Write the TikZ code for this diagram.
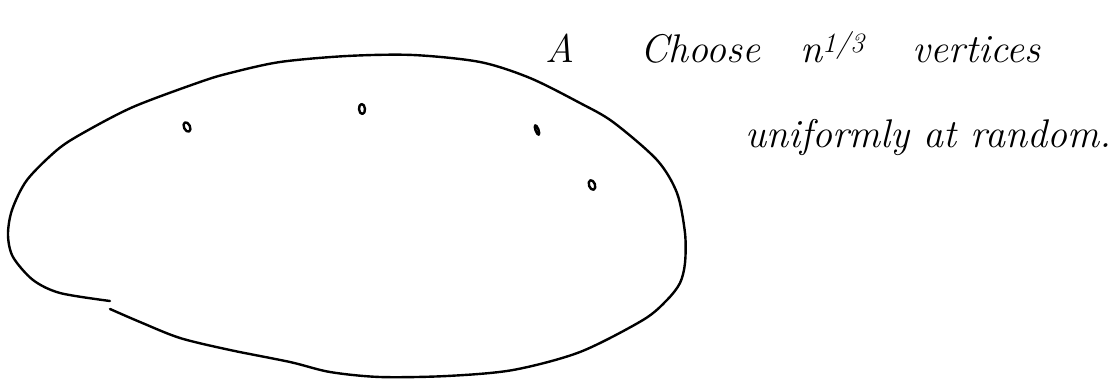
\documentclass[tikz,border=0pt]{standalone}
\usetikzlibrary{shapes.geometric}

\tikzset{
	pen/.style={line width=2.4pt, line cap=round, line join=round},
	vertexdot/.style={ellipse, draw, pen, inner sep=0pt, minimum width=6pt, minimum height=10pt},
	hand/.style={inner sep=0pt, font=\fontsize{40}{44}\selectfont\itshape}
}

\begin{document}
\begin{tikzpicture}[x=1pt, y=-1pt]

	\useasboundingbox (0,0) rectangle (1112,378);

	% Text position
	\def\textx{640}
	\def\texty{62}

	% Blob (open at the lower left)
	\draw[pen] plot[smooth] coordinates {
		(110,309) (140,322) (180,338) (230,350) (290,362) (330,372)
		(380,377) (447,376) (513,370) (580,352) (643,320) (667,300)
		(680,283) (685,263) (685,233) (677,193) (657,160) (613,122)
		(580,103) (530,78) (480,62) (413,55) (347,56) (280,62)
		(230,73) (200,82) (133,107) (83,133) (57,150) (27,180)
		(12,210) (8,235) (13,257) (33,280) (60,293) (110,301)
	};

	% Chosen vertices
	\node[vertexdot, rotate=25] (v1) at (187,127) {};
	\node[vertexdot, rotate=5] (v2) at (362,109) {};
	\node[vertexdot, rotate=20, minimum width=3pt] (v3) at (537,130) {};
	\node[vertexdot, rotate=20] (v4) at (592,185) {};

	% Labels
	\node[hand, anchor=base west] (setA) at (545,\texty) {A};
	\node[hand, anchor=base west] (line1) at (\textx,\texty)
		{Choose\hspace{1em}n\textsuperscript{1/3}\hspace{1.2em}vertices};
	\node[hand, anchor=base west] (line2) at ({\textx + 105},{\texty + 85})
		{uniformly at random.};

\end{tikzpicture}
\end{document}
